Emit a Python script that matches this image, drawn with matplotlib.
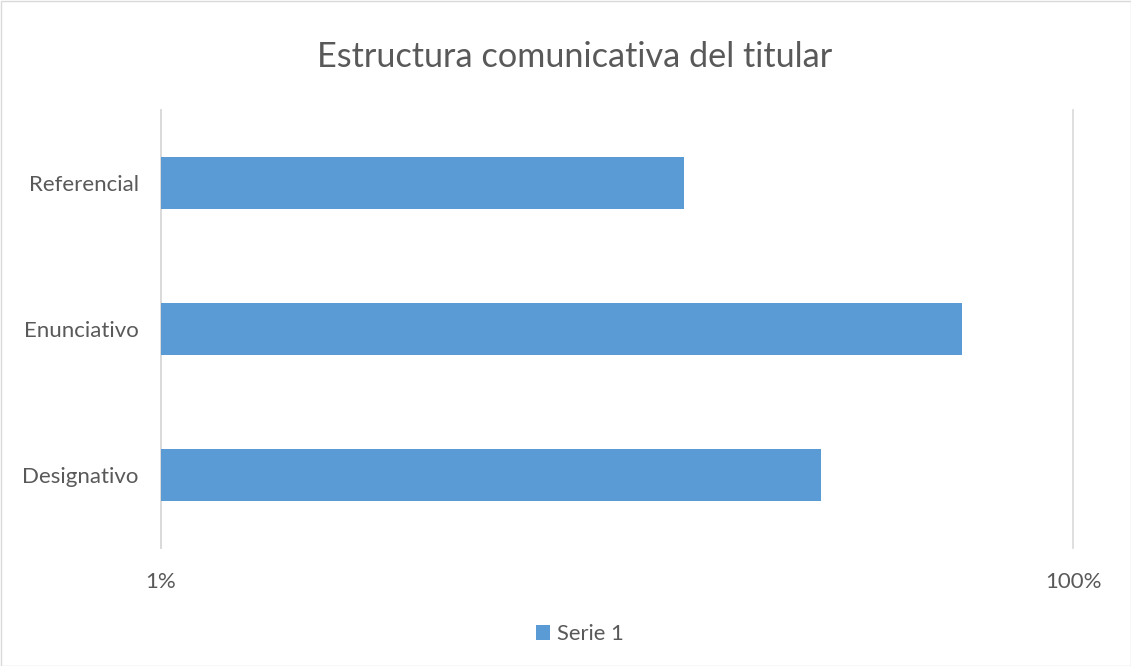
import matplotlib
matplotlib.use("Agg")
import matplotlib.pyplot as plt
from matplotlib.patches import Patch, Rectangle

categories = ["Designativo", "Enunciativo", "Referencial"]
values = [28.0, 57.0, 14.0]
tick_values = [1, 100]
tick_labels = ["1%", "100%"]
series_name = "Serie 1"
title = "Estructura comunicativa del titular"

bar_color = "#5B9BD5"
text_color = "#595959"
grid_color = "#D9D9D9"
font = ["Lato", "DejaVu Sans"]
plt.rcParams["font.family"] = font

fig = plt.figure(figsize=(11.31, 6.66), dpi=100)
ax = fig.add_axes([161 / 1131, 1 - 548 / 666, (1073 - 161) / 1131, (548 - 110) / 666])

base = 1
ax.barh(range(len(categories)), [v - base for v in values], left=base,
        height=0.355, color=bar_color, zorder=3)
ax.set_xscale("log")
ax.set_xlim(tick_values[0], tick_values[-1])
ax.set_ylim(-0.5, len(categories) - 0.5)
ax.set_xticks(tick_values)
ax.set_xticklabels(tick_labels)
ax.xaxis.set_minor_locator(matplotlib.ticker.NullLocator())
ax.set_yticks(range(len(categories)))
ax.set_yticklabels(categories)
ax.tick_params(axis="both", length=0, labelsize=16, colors=text_color)
ax.tick_params(axis="x", pad=17)
ax.tick_params(axis="y", pad=16)
for s in ["top", "bottom", "right"]:
    ax.spines[s].set_visible(False)
ax.spines["left"].set_color(grid_color)
ax.spines["left"].set_linewidth(1.2)
for t in tick_values:
    ax.axvline(t, color=grid_color, linewidth=1.2, zorder=1, clip_on=False)

fig.text(574.5 / 1131, 1 - 57 / 666, title, ha="center", va="center", fontsize=24.7,
         color=text_color)

handles = [Patch(facecolor=bar_color, label=series_name)]
leg = fig.legend(handles=handles, loc="center", bbox_to_anchor=(580 / 1131, 1 - 634 / 666),
                 frameon=False, fontsize=15.8, handlelength=0.65, handleheight=0.65,
                 handletextpad=0.3, labelcolor=text_color)

fig.patches.append(Rectangle((0.5 / 1131, 0.5 / 666), 1 - 1 / 1131, 1 - 1 / 666,
                             transform=fig.transFigure, fill=False,
                             edgecolor=grid_color, linewidth=1))

fig.savefig("out.png", dpi=100, facecolor="white")
